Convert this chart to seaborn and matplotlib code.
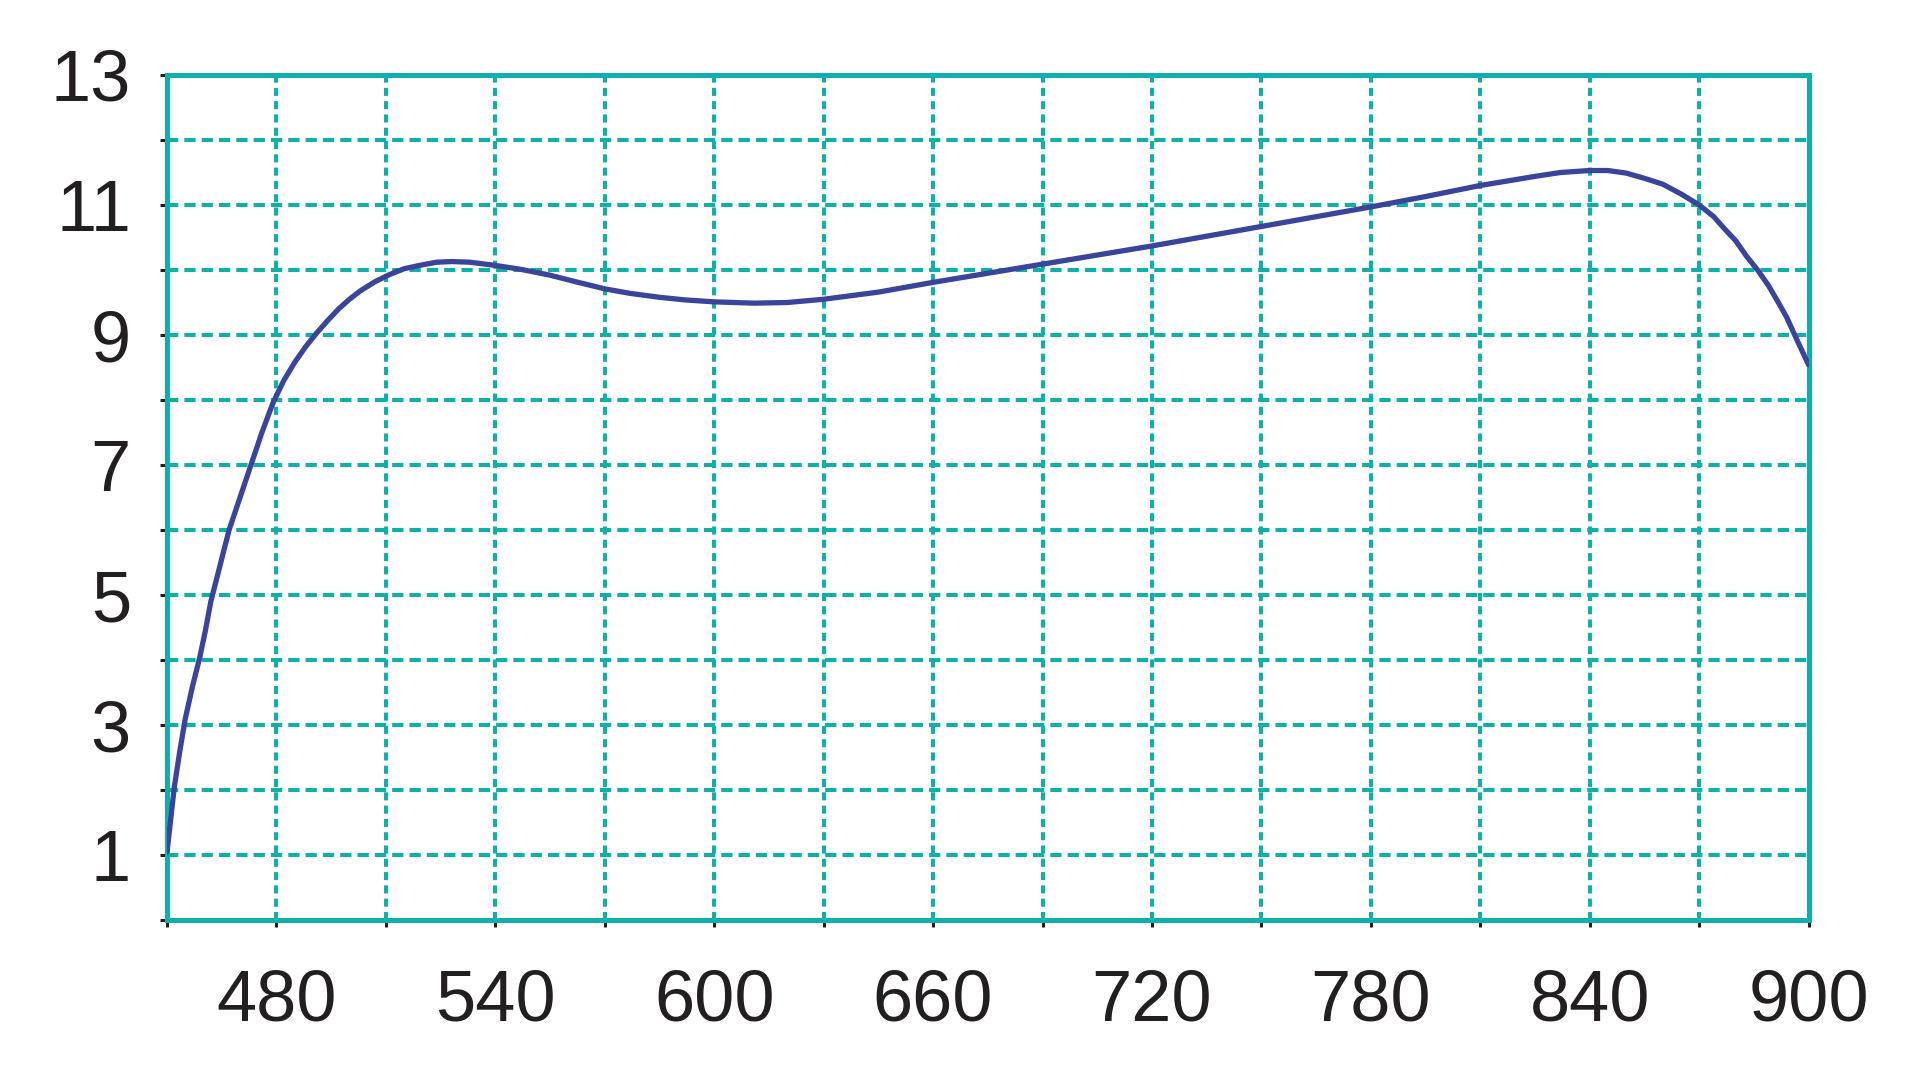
import matplotlib
matplotlib.use("Agg")
import matplotlib.pyplot as plt
import seaborn as sns
import pandas as pd

wavelength = [450, 451, 452, 453.5, 455, 457, 459, 460.5, 462, 464.5, 467, 470, 473, 476, 479,
              482, 485, 488, 491, 494, 497, 500, 503, 507, 511, 515, 520, 524, 528, 533,
              540, 547, 555, 562, 570, 577, 585, 592, 600, 611, 620, 630, 645, 660, 675,
              690, 705, 720, 735, 750, 765, 780, 795, 810, 825, 832, 840, 845, 850, 855,
              860, 865, 870, 874, 877, 880, 883, 886, 889, 892, 894, 897, 900]
value = [1.05, 1.55, 2.05, 2.6, 3.1, 3.6, 4.05, 4.45, 4.9, 5.45, 6.0, 6.5, 7.0, 7.5, 7.95,
         8.3, 8.58, 8.82, 9.03, 9.22, 9.4, 9.55, 9.68, 9.82, 9.93, 10.02, 10.08, 10.12, 10.13, 10.12,
         10.07, 10.01, 9.92, 9.82, 9.71, 9.64, 9.58, 9.54, 9.51, 9.49, 9.5, 9.55, 9.66, 9.81, 9.95,
         10.09, 10.23, 10.37, 10.52, 10.67, 10.82, 10.97, 11.13, 11.30, 11.44, 11.5, 11.53, 11.53, 11.49, 11.41,
         11.32, 11.17, 11.0, 10.82, 10.63, 10.45, 10.21, 10.0, 9.76, 9.47, 9.27, 8.9, 8.54]

x_ticks = list(range(450, 901, 30))
x_labels = ["" if t % 60 else str(t) for t in x_ticks]
y_ticks = list(range(0, 14))
y_labels = [str(t) if t % 2 else "" for t in y_ticks]

df = pd.DataFrame({"wavelength": wavelength, "value": value})

sns.set_theme(style="white")
plt.rcParams["font.family"] = ["Liberation Sans", "DejaVu Sans"]

teal = "#0fb0a8"
fig = plt.figure(figsize=(19.2, 10.8), dpi=100)
ax = fig.add_axes([0.087, 0.148, 0.855, 0.7826])

# grid
for yv in y_ticks[1:-1]:
    ax.axhline(yv, color=teal, lw=2.9, ls=(0, (2.8, 1.5)), zorder=1)
for xv in x_ticks[1:-1]:
    ax.axvline(xv, color=teal, lw=2.9, ls=(0, (2.0, 1.3)), zorder=1)

sns.lineplot(data=df, x="wavelength", y="value", ax=ax, color="#3a449b", lw=3.8,
             zorder=3, solid_joinstyle="round", solid_capstyle="round")

ax.set_xlim(450, 900)
ax.set_ylim(0, 13)
ax.set_xticks(x_ticks)
ax.set_xticklabels(x_labels)
ax.set_yticks(y_ticks)
ax.set_yticklabels(y_labels)
ax.set_xlabel("")
ax.set_ylabel("")

for s in ax.spines.values():
    s.set_color(teal)
    s.set_linewidth(3.6)
    s.set_visible(True)

ax.tick_params(axis="both", direction="out", length=5, width=2.2, color="#231f20",
               labelsize=52, labelcolor="#231f20", bottom=True, left=True)
ax.tick_params(axis="x", pad=30)
ax.tick_params(axis="y", pad=21)

fig.savefig("out.png", dpi=100, facecolor="white")
